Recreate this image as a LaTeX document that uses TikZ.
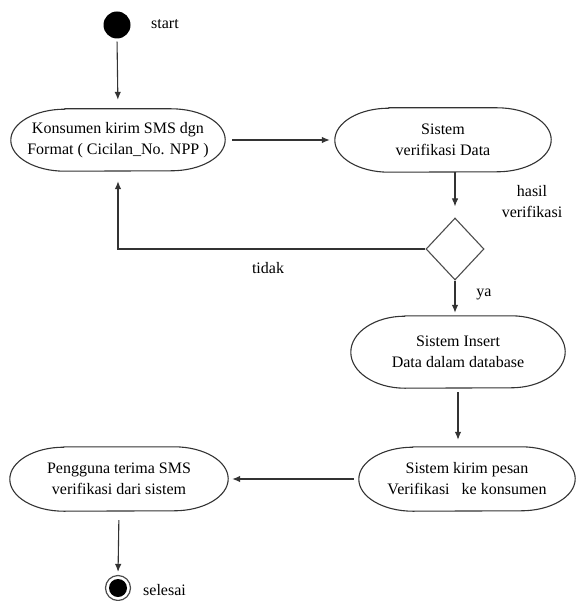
\documentclass[tikz,border=0pt]{standalone}
\usepackage{fontspec}
\setmainfont{Liberation Serif}
\newfontfamily\serifface{Liberation Serif}
\usetikzlibrary{arrows.meta,shapes.geometric,calc}

% activity box: flat top and bottom with elliptical ends
% #1 name, #2 x, #3 y, #4 width, #5 height, #6 text
\newcommand\actbox[6]{%
  \node[minimum width=#4pt, minimum height=#5pt, inner sep=0pt, align=center, font=\txt] (#1) at (#2,#3) {#6};
  \draw[outline] ($(#1.north west)+(54pt,0)$) -- ($(#1.north east)+(-54pt,0)$)
    arc[start angle=90, end angle=-90, x radius=54pt, y radius=#5pt/2]
    -- ($(#1.south west)+(54pt,0)$)
    arc[start angle=270, end angle=90, x radius=54pt, y radius=#5pt/2] -- cycle;
}
\newcommand\txt{\serifface\fontsize{16}{21}\selectfont}

\begin{document}
\begin{tikzpicture}[x=1pt, y=1pt,
  outline/.style={line width=1.1pt, draw=black!80},
  flow/.style={line width=1.1pt, draw=black!80, -{Latex[length=8pt,width=6.5pt]}},
  lbl/.style={font=\txt, align=center, inner sep=0pt}]
\useasboundingbox (0,0) rectangle (578,-601);

% initial and final states
\node[circle, fill=black, minimum size=27pt, inner sep=0pt] (start) at (117,-25) {};
\node[lbl, anchor=west] (startlbl) at (151,-24) {start};

\node[circle, draw=black!70, line width=1.2pt, minimum size=25pt, inner sep=0pt] (end) at (118,-588) {};
\node[circle, fill=black, minimum size=18pt, inner sep=0pt] (endin) at (end.center) {};
\node[lbl, anchor=west] (endlbl) at (143,-590) {selesai};

% activities
\actbox{kirim}{118}{-140}{214}{62}{Konsumen kirim SMS dgn\\Format ( Cicilan\_No. NPP )}
\actbox{verif}{443}{-140}{216}{64}{Sistem\\verifikasi Data}
\actbox{insert}{458}{-352}{214}{72}{Sistem Insert\\Data dalam database}
\actbox{pesan}{467}{-479}{216}{64}{Sistem kirim pesan\\Verifikasi \ \ ke konsumen}
\actbox{terima}{119}{-479}{218}{64}{Pengguna terima SMS\\verifikasi dari sistem}

% decision
\node[diamond, draw=black!70, line width=1.1pt, minimum width=58pt, minimum height=62pt, inner sep=0pt] (dec) at (455,-249) {};
\node[lbl] (haslbl) at (532,-202) {hasil\\verifikasi};
\node[lbl] (tidaklbl) at (268,-268) {tidak};
\node[lbl] (yalbl) at (484,-294) {ya};

% transitions
\draw[flow, shorten <=3pt, shorten >=9pt] (start.south) -- (kirim.north);
\draw[flow, shorten <=7pt, shorten >=5pt] (kirim.east) -- (verif.west);
\draw[flow, shorten >=11pt] (dec.north |- verif.south) -- (dec.north);
\draw[flow, shorten >=10pt] (dec.west) -| (kirim.south);
\draw[flow, shorten >=3pt] (dec.south) -- (dec.south |- insert.north);
\draw[flow, shorten <=4pt, shorten >=7pt] (insert.south) -- (insert.south |- pesan.north);
\draw[flow, shorten <=5pt, shorten >=4pt] (pesan.west) -- (terima.east);
\draw[flow, shorten <=9pt, shorten >=3pt] (terima.south) -- (end.north);
\end{tikzpicture}
\end{document}
